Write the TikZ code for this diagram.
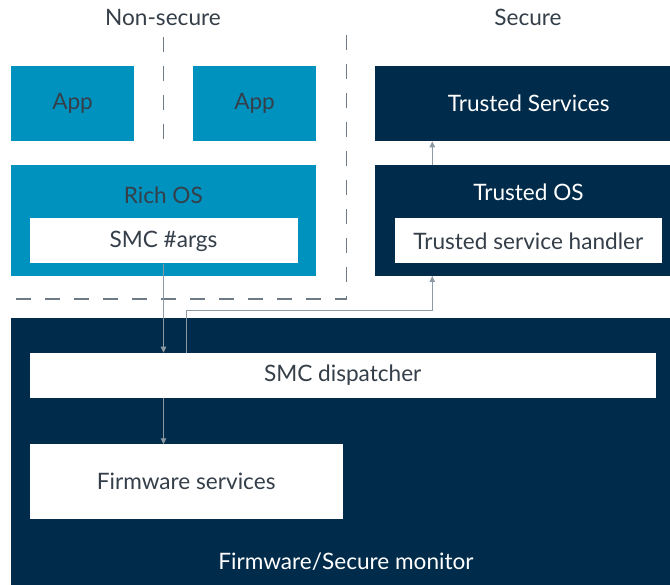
\documentclass[tikz,border=0pt]{standalone}
\usepackage{fontspec}
\setmainfont{Lato}
\usetikzlibrary{arrows.meta}
\definecolor{lblue}{HTML}{0092BF}
\definecolor{navy}{HTML}{012B4A}
\definecolor{txt}{HTML}{353F49}
\definecolor{dashc}{HTML}{6E7A85}
\definecolor{linec}{HTML}{8D99A3}
\tikzset{
  box/.style={rectangle, inner sep=0pt, anchor=north west, draw=none},
  nsbox/.style={box, fill=lblue, text=txt},
  sbox/.style={box, fill=navy, text=white},
  wbox/.style={box, fill=white, text=txt},
  lbl/.style={inner sep=0pt, anchor=center},
  dline/.style={draw=dashc, line width=1.1pt, dash pattern=on 15pt off 14pt},
  conn/.style={draw=linec, line width=1pt, -{Triangle[length=6pt,width=5.5pt]}},
  every node/.style={font=\fontsize{22.6}{27}\selectfont}
}
\begin{document}
\begin{tikzpicture}[x=1pt,y=-1pt]
\clip (0,0) rectangle (670,585);
\fill[white] (0,0) rectangle (670,585);
% labels
\node[lbl, text=txt] (nslabel) at (163,17) {Non-secure};
\node[lbl, text=txt] (slabel) at (528,17) {Secure};
% dashed separators
\draw[dline] (163.3,37) -- (163.3,142);
\draw[dline] (346.7,35) -- (346.7,299) -- (12,299);
% non-secure
\node[nsbox, minimum width=123.3pt, minimum height=75.3pt] (app1) at (10.7,65.7) {App};
\node[nsbox, minimum width=123.3pt, minimum height=75.3pt] (app2) at (192.7,65.7) {App};
\node[nsbox, minimum width=305.3pt, minimum height=110.7pt] (rich) at (10.7,165.3) {};
\node[lbl, text=txt] (richlbl) at (163.3,195) {Rich OS};
\node[wbox, minimum width=268pt, minimum height=45pt] (smcargs) at (29.3,218.3) {SMC \#args};
% secure
\node[sbox, minimum width=307pt, minimum height=75.3pt] (ts) at (375,65.7) {Trusted Services};
\node[sbox, minimum width=307pt, minimum height=110.7pt] (tos) at (375,165.3) {};
\node[lbl, text=white] (toslbl) at (528.5,192) {Trusted OS};
\node[wbox, minimum width=267.7pt, minimum height=45pt] (tsh) at (394.3,218.3) {Trusted service handler};
% firmware
\node[sbox, minimum width=671pt, minimum height=268pt] (fw) at (10.7,318.3) {};
\node[lbl, text=white] (fwlbl) at (346,562) {Firmware/Secure monitor};
\node[wbox, minimum width=626.4pt, minimum height=44.7pt] (disp) at (29.3,352.7) {SMC dispatcher};
\node[wbox, minimum width=313.4pt, minimum height=74pt] (fws) at (29.3,444.3) {Firmware services};
% connectors
\coordinate (dispout) at (186,352.7);
\coordinate (tosin) at (432.3,276);
\draw[conn] (smcargs.south) -- (smcargs.south |- disp.north);
\draw[conn] (smcargs.south |- disp.south) -- (smcargs.south |- fws.north);
\draw[conn] (dispout) -- (186,310.5) -| (tosin);
\draw[conn] (tos.north -| tosin) -- (ts.south -| tosin);
\end{tikzpicture}
\end{document}
